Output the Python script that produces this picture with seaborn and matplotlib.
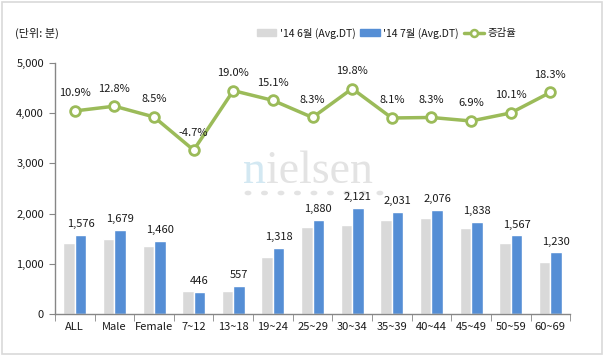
import numpy as np
import pandas as pd
import matplotlib
matplotlib.use('Agg')
import matplotlib.pyplot as plt
import seaborn as sns
from matplotlib.patches import Patch, Rectangle, Circle
from matplotlib.lines import Line2D

# data
groups = ['ALL', 'Male', 'Female', '7~12', '13~18', '19~24', '25~29',
          '30~34', '35~39', '40~44', '45~49', '50~59', '60~69']
june = [1421, 1488, 1346, 468, 468, 1145, 1736, 1770, 1879, 1917, 1719, 1423, 1040]
july = [1576, 1679, 1460, 446, 557, 1318, 1880, 2121, 2031, 2076, 1838, 1567, 1230]
rate = [10.9, 12.8, 8.5, -4.7, 19.0, 15.1, 8.3, 19.8, 8.1, 8.3, 6.9, 10.1, 18.3]
series = ["'14 6월 (Avg.DT)", "'14 7월 (Avg.DT)", '증감율']

gray = '#D9D9D9'
blue = '#558ED5'
green = '#9BBB59'
txt = '#1a1a1a'

sns.set_style('white')
plt.rcParams['font.family'] = ['Noto Sans CJK KR', 'DejaVu Sans']

df = pd.DataFrame({'group': groups * 2,
                   'value': june + july,
                   'month': [series[0]] * len(groups) + [series[1]] * len(groups)})

fig = plt.figure(figsize=(6.04, 3.56), dpi=100)

# watermark behind everything
wm = fig.text(0.402, 0.487, 'n', fontsize=33, family='Liberation Serif', color='#D3E8F2', zorder=-5)
fig.add_artist(matplotlib.text.Annotation('ielsen', xy=(1, 0), xycoords=wm, fontsize=33,
                                          family='Liberation Serif', color='#E3E3E3',
                                          va='bottom', ha='left', zorder=-5))
for k in range(9):
    fig.add_artist(Circle((248 / 604 + k * 0.0273, 1 - 193 / 356), 0.0045,
                          transform=fig.transFigure, color='#E3E3E3', zorder=-5))

ax = fig.add_axes([0.091, 0.118, 0.853, 0.705])
ax.patch.set_alpha(0)

sns.barplot(data=df, x='group', y='value', hue='month', order=groups,
            palette=[gray, blue], width=0.58, saturation=1, ax=ax, legend=False)

ax.set_ylim(0, 5000)
ax.set_xlim(-0.5, len(groups) - 0.5)
ax.set_yticks([0, 1000, 2000, 3000, 4000, 5000])
ax.set_yticklabels(['0', '1,000', '2,000', '3,000', '4,000', '5,000'])
ax.set_xlabel('')
ax.set_ylabel('')
for s in ['top', 'right']:
    ax.spines[s].set_visible(False)
for s in ['left', 'bottom']:
    ax.spines[s].set_color('#868686')
    ax.spines[s].set_linewidth(1)
ax.tick_params(axis='y', length=4, color='#868686', labelsize=8, labelcolor=txt, pad=4, left=True)
ax.tick_params(axis='x', which='major', length=0, labelsize=8, labelcolor=txt, pad=6)
ax.set_xticks(np.arange(-0.5, len(groups)), minor=True)
ax.tick_params(axis='x', which='minor', length=5, color='#868686', bottom=True)

# July labels
for i, v in enumerate(july):
    ax.annotate(f'{v:,}', (i + 0.145, v), xytext=(0, 4), textcoords='offset points',
                ha='center', va='bottom', fontsize=8, color=txt)

# change rate on a hidden secondary axis
ax2 = ax.twinx()
ax2.set_ylim(-70, 30)
sns.lineplot(x=np.arange(len(groups)), y=rate, ax=ax2, color=green, linewidth=2.5,
             marker='o', markersize=7, markerfacecolor='white', markeredgecolor=green,
             markeredgewidth=2)
ax2.set_axis_off()
ax2.set_xlim(-0.5, len(groups) - 0.5)
for i, r in enumerate(rate):
    ax2.annotate(f'{r:.1f}%', (i, r), xytext=(0, 9), textcoords='offset points',
                 ha='center', va='bottom', fontsize=8, color=txt)

fig.text(15 / 604, 1 - 33 / 356, '(단위: 분)', fontsize=8, color=txt, va='center')

handles = [Patch(color=gray), Patch(color=blue),
           Line2D([0], [0], color=green, lw=2.5, marker='o', markersize=5,
                  markerfacecolor='white', markeredgecolor=green, markeredgewidth=1.8)]
fig.legend(handles, series, loc='center right', bbox_to_anchor=(516 / 604, 1 - 33 / 356),
           ncol=3, frameon=False, fontsize=7.5, handlelength=1.9, handleheight=0.6,
           handletextpad=0.3, columnspacing=0.5, borderaxespad=0, borderpad=0,
           labelcolor=txt)

fig.patches.append(Rectangle((0.004, 0.006), 0.992, 0.988, transform=fig.transFigure,
                             fill=False, edgecolor='#D9D9D9', linewidth=1.2))

fig.savefig('out.png', dpi=100)
